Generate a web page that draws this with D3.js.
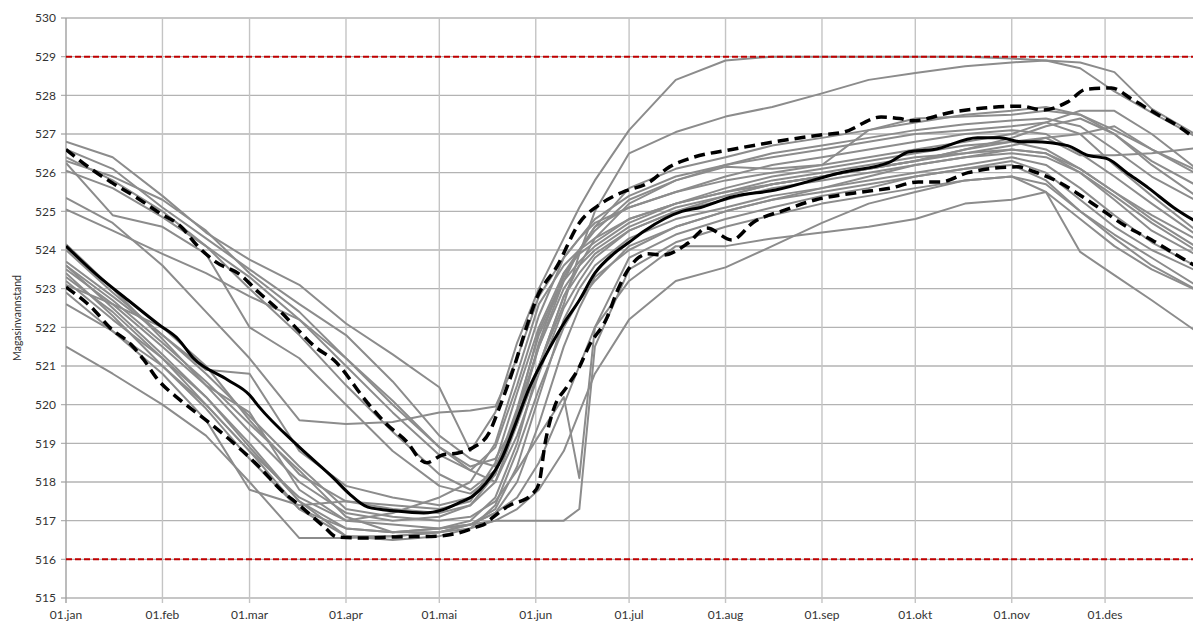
<!DOCTYPE html>
<html>
<head>
<meta charset="utf-8">
<script src="https://cdn.jsdelivr.net/npm/d3@7"></script>
<style>
  body { margin: 0; background: #fff; }
  text { font-family: Lato, "Open Sans", sans-serif; fill: #333; }
</style>
</head>
<body>
<div class="container"></div>
<script>
const w = 1193;
const h = 622;
const margin = { top: 18, left: 66, bottom: 24 };

// y axis ticks and regulation limits
const yTicks = d3.range(515, 531, 1);
const hrv = 529;
const lrv = 516;
const monthLabels = ["01.jan", "01.feb", "01.mar", "01.apr", "01.mai", "01.jun",
  "01.jul", "01.aug", "01.sep", "01.okt", "01.nov", "01.des"];

// gray lines: one row per year, sampled on grayDays (day of year)
const grayDays = [0, 15, 31, 45, 59, 75, 90, 105, 120, 130, 138, 145, 152, 160, 165,
  170, 181, 196, 212, 227, 243, 258, 273, 289, 304, 315, 326, 337, 349, 365];
const grayLevels = [
  [526.8, 526.4, 525.4, 524.45, 523.75, 523.1, 522.1, 521.3, 520.45, 518.8, 519.8, 521.6, 523.0, 524.3, 525.1, 525.8, 527.1, 528.4, 528.9, 529.0, 529.0, 529.0, 529.0, 529.0, 528.95, 528.9, 528.7, 528.1, 527.55, 526.85],
  [526.3, 525.9, 525.3, 524.5, 523.4, 522.4, 521.2, 520.0, 518.9, 518.4, 518.6, 519.6, 521.0, 522.6, 523.9, 525.0, 526.5, 527.05, 527.45, 527.7, 528.05, 528.4, 528.58, 528.75, 528.85, 528.9, 528.85, 528.6, 527.65, 526.9],
  [523.3, 522.4, 521.2, 520.0, 518.8, 517.6, 517.0, 516.9, 516.8, 516.9, 517.2, 517.6, 518.5, 520.0, 521.0, 522.0, 523.2, 524.1, 524.1, 524.3, 524.45, 524.6, 524.8, 525.2, 525.3, 525.5, 523.95, 523.35, 522.7, 521.8],
  [523.6, 522.7, 521.6, 520.6, 519.5, 518.3, 517.1, 516.7, 516.7, 516.8, 517.0, 517.3, 517.8, 518.8, 519.8, 520.8, 522.2, 523.2, 523.55, 524.1, 524.7, 525.2, 525.5, 525.8, 525.9, 525.7, 525.0, 524.3, 523.6, 522.9],
  [526.4, 525.8, 525.0, 524.1, 523.0, 521.8, 520.5, 519.3, 518.2, 517.8, 518.3, 519.5, 521.0, 522.8, 523.6, 524.3, 525.2, 525.8, 526.15, 526.1, 526.2, 527.1, 527.4, 527.45, 527.5, 527.6, 527.5, 527.1, 526.6, 526.0],
  [526.25, 524.9, 524.6, 523.9, 522.0, 521.2, 520.0, 518.8, 517.9, 517.7, 518.2, 519.8, 521.9, 523.3, 524.0, 524.5, 525.3, 525.8, 526.2, 526.5, 526.7, 526.9, 527.1, 527.25, 527.35, 527.4, 527.2, 526.6, 525.9, 525.2],
  [526.05, 525.6, 524.85, 524.1, 523.3, 522.2, 521.0, 519.8, 518.7, 518.3, 518.9, 520.5, 522.3, 523.8, 524.3, 524.8, 525.4, 525.9, 526.2, 526.4, 526.6, 526.8, 527.0, 527.1, 527.2, 527.3, 527.0, 526.2, 525.4, 524.4],
  [525.35, 524.7, 523.6, 522.4, 521.2, 519.6, 519.5, 519.55, 519.8, 519.85, 519.95, 521.2, 522.8, 523.8, 524.3, 524.7, 525.1, 525.5, 525.8, 526.0, 526.2, 526.4, 526.6, 526.8, 527.0, 527.3, 527.6, 527.6, 527.0, 526.0],
  [525.05, 524.5, 523.9, 523.4, 522.8, 522.2, 521.2, 520.1, 518.9, 518.3, 518.0, 519.5, 521.6, 523.4, 524.0, 524.6, 525.1, 525.5, 525.9, 526.2, 526.4, 526.6, 526.8, 527.0, 527.1, 527.0, 526.5, 525.9, 525.2, 524.3],
  [524.15, 523.0, 521.7, 520.5, 519.3, 518.0, 517.2, 517.0, 517.1, 517.4, 518.2, 519.8, 521.5, 523.0, 523.6, 524.0, 524.6, 525.1, 525.4, 525.7, 525.9, 526.1, 526.3, 526.5, 526.6, 526.5, 526.0, 525.3, 524.5, 523.8],
  [523.6, 522.5, 521.3, 520.2, 518.9, 517.5, 516.8, 516.7, 516.8, 517.0, 517.6, 519.0, 521.0, 522.8, 523.4, 523.9, 524.5, 525.0, 525.3, 525.6, 525.8, 526.0, 526.2, 526.4, 526.5, 526.4, 526.0, 525.4, 524.7, 523.9],
  [523.5, 522.6, 521.5, 520.5, 519.8, 517.8, 517.0, 517.2, 517.6, 518.0, 519.0, 520.8, 522.6, 523.6, 524.0, 524.3, 524.8, 525.2, 525.5, 525.8, 526.0, 526.2, 526.4, 526.5, 526.7, 526.9, 527.0, 527.2, 526.6, 525.9],
  [523.4, 522.3, 521.0, 519.9, 518.6, 517.3, 516.6, 516.6, 516.7, 516.9, 517.2, 518.0, 519.5, 521.5, 522.5, 523.3, 524.0, 524.6, 525.0, 525.3, 525.6, 525.9, 526.2, 526.4, 526.6, 526.5, 526.1, 525.5, 524.9, 524.2],
  [523.2, 522.2, 521.2, 520.2, 519.0, 517.5, 516.6, 516.5, 516.6, 516.8, 517.4, 518.8, 520.4, 522.0, 522.7, 523.2, 524.1, 524.6, 525.0, 525.3, 525.5, 525.7, 525.9, 526.1, 526.3, 526.0, 525.3, 524.6, 524.0, 523.4],
  [523.1, 522.6, 522.0, 521.0, 519.6, 518.2, 517.5, 517.3, 517.2, 517.4, 518.0, 519.2, 520.8, 522.5, 523.2, 523.8, 524.5, 525.0, 525.4, 525.7, 525.9, 526.1, 526.3, 526.6, 526.8, 526.9, 526.45, 526.45, 526.5, 526.65],
  [522.9, 521.9, 520.8, 519.6, 517.8, 517.4, 517.5, 517.4, 517.3, 517.5, 518.5, 520.3, 522.0, 523.4, 523.9, 524.2, 524.8, 525.2, 525.5, 525.7, 525.9, 526.1, 526.3, 526.6, 526.9, 527.2, 527.4, 527.0, 526.2, 525.3],
  [521.5, 520.8, 520.0, 519.2, 518.0, 516.55, 516.55, 516.6, 516.7, 516.9, 517.3, 518.4, 520.2, 522.2, 523.0, 523.6, 524.3, 524.8, 525.1, 525.4, 525.6, 525.8, 526.0, 526.2, 526.4, 526.2, 525.6, 524.9, 524.2, 523.5],
  [523.7, 522.8, 521.8, 520.8, 519.7, 518.4, 517.3, 517.1, 517.0, 517.1, 517.5, 518.3, 519.2, 520.2, 518.1, 522.0, 523.8, 524.4, 524.8, 525.1, 525.4, 525.6, 525.9, 526.1, 526.2, 525.8, 525.0, 524.4, 523.8, 523.0],
  [522.6, 521.9, 521.0, 520.0, 518.8, 517.3, 516.8, 516.7, 516.8, 516.9, 517.0, 517.0, 517.0, 517.0, 517.3, 521.5, 523.5, 524.2, 524.6, 524.9, 525.2, 525.4, 525.6, 525.8, 525.9, 525.5, 524.8, 524.1, 523.5, 522.9],
  [526.6, 526.1, 525.1, 524.3, 523.5, 522.6, 521.8, 520.6, 519.2, 518.6, 518.4, 519.6, 521.5, 523.2, 524.0, 524.6, 525.6, 526.1, 526.4, 526.7, 526.9, 527.1, 527.3, 527.5, 527.6, 527.7, 527.5, 527.0, 526.3, 525.6],
  [524.0, 522.9, 521.8, 520.9, 520.8, 518.8, 517.9, 517.6, 517.4, 517.6, 518.3, 519.9, 521.8, 523.2, 523.7, 524.1, 524.7, 525.2, 525.6, 525.9, 526.1, 526.3, 526.5, 526.7, 526.8, 526.6, 526.1, 525.5, 524.8, 524.0]
];

// median (solid black)
const medianDays = [0, 10, 20, 30, 36, 41, 52, 59, 62, 75, 86, 91, 97, 106, 115, 121, 126, 131, 135, 140,
  144, 149, 154, 160, 165, 170, 176, 181, 186, 198, 204, 214, 228, 249, 265, 271, 279, 293, 300, 307,
  311, 322, 328, 335, 341, 348, 356, 365];
const medianLevels = [524.1, 523.35, 522.7, 522.06, 521.7, 521.2, 520.64, 520.25, 519.95, 518.9, 518.1, 517.7,
  517.35, 517.25, 517.2, 517.28, 517.45, 517.65, 517.97, 518.6, 519.4, 520.45, 521.25, 522.1, 522.7, 523.4,
  523.9, 524.2, 524.5, 525.0, 525.1, 525.37, 525.55, 526.0, 526.28, 526.54, 526.6, 526.9, 526.9, 526.8,
  526.8, 526.7, 526.46, 526.35, 526.0, 525.6, 525.1, 524.65];

// upper dashed
const upperDays = [0, 8, 15, 23, 30, 37, 42, 48, 56, 62, 69, 75, 80, 86, 97, 103, 110, 114, 116, 121, 126,
  131, 136, 139, 144, 148, 151, 158, 165, 172, 179, 187, 194, 201, 214, 228, 242, 250, 262, 268, 272, 285,
  295, 307, 314, 322, 328, 336, 343, 351, 357, 365];
const upperLevels = [526.6, 526.1, 525.73, 525.34, 524.96, 524.6, 524.13, 523.7, 523.36, 522.9, 522.4, 521.9,
  521.5, 521.16, 520.04, 519.5, 519.0, 518.57, 518.5, 518.7, 518.75, 518.9, 519.27, 519.86, 520.97, 522.0,
  522.7, 523.6, 524.7, 525.2, 525.5, 525.73, 526.15, 526.38, 526.6, 526.8, 526.97, 527.05, 527.44, 527.4,
  527.34, 527.57, 527.67, 527.72, 527.62, 527.83, 528.16, 528.19, 527.88, 527.5, 527.23, 526.75];

// lower dashed
const lowerDays = [0, 9, 14, 21, 25, 29, 37, 45, 54, 62, 69, 75, 83, 87, 96, 106, 119, 126, 132, 135, 137,
  144, 146, 150, 152, 154, 157, 161, 165, 168, 174, 177, 180, 184, 187, 192, 200, 206, 214, 221, 231, 241,
  253, 265, 274, 281, 290, 306, 311, 319, 325, 332, 341, 349, 357, 365];
const lowerLevels = [523.04, 522.45, 522.0, 521.55, 521.16, 520.7, 520.1, 519.6, 519.0, 518.4, 517.8, 517.4,
  516.84, 516.58, 516.55, 516.58, 516.6, 516.68, 516.84, 516.93, 517.07, 517.45, 517.5, 517.7, 517.95, 519.0,
  519.94, 520.46, 520.97, 521.5, 522.27, 522.9, 523.4, 523.8, 523.9, 523.87, 524.18, 524.57, 524.26, 524.72,
  525.03, 525.3, 525.47, 525.6, 525.76, 525.76, 526.0, 526.15, 526.03, 525.76, 525.47, 525.09, 524.6, 524.26,
  523.87, 523.5];

const day = d => new Date(Date.UTC(2015, 0, 1) + d * 864e5);

const x = d3.scaleUtc()
  .domain([day(0), day(365)])
  .range([margin.left, margin.left + 365 * 3.111]);

const y = d3.scaleLinear()
  .domain([515, 530])
  .range([h - margin.bottom, margin.top]);

const svg = d3.select('.container').append('svg')
  .attr('width', w)
  .attr('height', h);

svg.append('defs').append('clipPath')
  .attr('id', 'plot-clip')
  .append('rect')
  .attr('x', margin.left)
  .attr('y', margin.top - 4)
  .attr('width', w - margin.left)
  .attr('height', h - margin.bottom - margin.top + 8);

const months = d3.utcMonth.range(day(0), day(365));

// grid
svg.append('g')
  .selectAll('line')
  .data(yTicks)
  .enter().append('line')
  .attr('x1', margin.left - 5)
  .attr('x2', w)
  .attr('y1', d => y(d))
  .attr('y2', d => y(d))
  .attr('stroke', '#b3b3b3')
  .attr('stroke-width', 1.4);

svg.append('g')
  .selectAll('line')
  .data(months.slice(1))
  .enter().append('line')
  .attr('x1', d => x(d))
  .attr('x2', d => x(d))
  .attr('y1', margin.top)
  .attr('y2', y(515) + 5)
  .attr('stroke', '#c4c4c4')
  .attr('stroke-width', 1.4);

// axis lines
svg.append('line')
  .attr('x1', margin.left).attr('x2', margin.left)
  .attr('y1', margin.top).attr('y2', y(515) + 5)
  .attr('stroke', '#a0a0a0').attr('stroke-width', 1.4);

// tick labels
svg.append('g')
  .selectAll('text')
  .data(yTicks)
  .enter().append('text')
  .attr('x', margin.left - 10)
  .attr('y', d => y(d))
  .attr('dy', '0.35em')
  .attr('text-anchor', 'end')
  .style('font-size', '12px')
  .text(d => d);

svg.append('g')
  .selectAll('text')
  .data(months)
  .enter().append('text')
  .attr('x', d => x(d))
  .attr('y', y(515) + 21)
  .attr('text-anchor', 'middle')
  .style('font-size', '12px')
  .text((d, i) => monthLabels[i]);

svg.append('text')
  .attr('transform', `translate(21, ${(margin.top + y(515)) / 2 + 10}) rotate(-90)`)
  .attr('text-anchor', 'middle')
  .style('font-size', '10.5px')
  .text('Magasinvannstand');

const plot = svg.append('g').attr('clip-path', 'url(#plot-clip)');

const line = d3.line()
  .x(d => x(day(d[0])))
  .y(d => y(d[1]));

const smooth = d3.line()
  .x(d => x(day(d[0])))
  .y(d => y(d[1]))
  .curve(d3.curveMonotoneX);

plot.append('g')
  .selectAll('path')
  .data(grayLevels.map(vals => vals.map((v, i) => [grayDays[i], v])))
  .enter().append('path')
  .attr('d', line)
  .attr('fill', 'none')
  .attr('stroke', '#8c8c8c')
  .attr('stroke-width', 2)
  .attr('stroke-linejoin', 'round');

// regulation limits
plot.append('g')
  .selectAll('line')
  .data([hrv, lrv])
  .enter().append('line')
  .attr('x1', margin.left)
  .attr('x2', w)
  .attr('y1', d => y(d))
  .attr('y2', d => y(d))
  .attr('stroke', '#c00000')
  .attr('stroke-width', 2)
  .attr('stroke-dasharray', '6,3');

const pairs = (days, vals) => vals.map((v, i) => [days[i], v]);

plot.append('path')
  .attr('d', smooth(pairs(upperDays, upperLevels)))
  .attr('fill', 'none')
  .attr('stroke', '#000')
  .attr('stroke-width', 3.5)
  .attr('stroke-dasharray', '11,6');

plot.append('path')
  .attr('d', smooth(pairs(lowerDays, lowerLevels)))
  .attr('fill', 'none')
  .attr('stroke', '#000')
  .attr('stroke-width', 3.5)
  .attr('stroke-dasharray', '11,6');

plot.append('path')
  .attr('d', smooth(pairs(medianDays, medianLevels)))
  .attr('fill', 'none')
  .attr('stroke', '#000')
  .attr('stroke-width', 3);
</script>
</body>
</html>
